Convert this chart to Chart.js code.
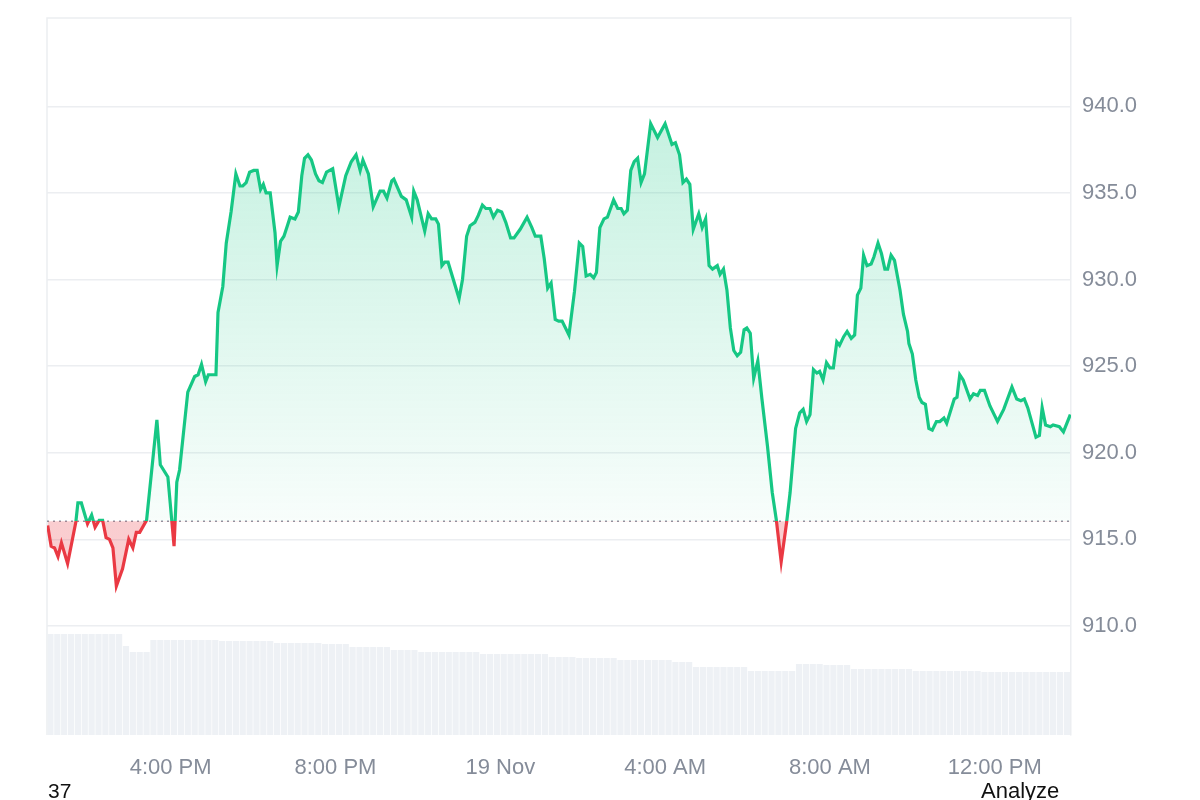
<!DOCTYPE html>
<html lang="en">
<head>
  <meta charset="UTF-8" />
  <title>Price chart</title>
  <script src="https://cdn.jsdelivr.net/npm/chart.js"></script>
  <style>
    body {
      margin: 0;
      background: #ffffff;
      font-family: 'Liberation Sans', Arial, sans-serif;
    }

    .wrap {
      position: relative;
      width: 1200px;
      height: 800px;
      overflow: hidden;
    }

    .corner-note {
      position: absolute;
      top: 780px;
      font-size: 21px;
      line-height: 21px;
      color: #111;
    }
  </style>
</head>
<body>
  <div class="wrap">
    <canvas id="priceChart" width="1200" height="800"></canvas>
    <div class="corner-note" style="left: 48px;">37</div>
    <div class="corner-note" style="left: 981px; font-size: 22px;">Analyze</div>
  </div>

  <script>
    // minutes since 1:00 PM, 18 Nov
    const minutes = [
      1, 6, 11, 16, 21, 30, 42, 45, 50, 59, 65, 70, 76, 81, 86, 91, 96, 101, 110, 119,
      125, 130, 135, 145, 160, 165, 176, 185, 189, 193, 205, 215, 220, 225, 231, 235, 246, 249, 256, 261,
      268, 275, 281, 285, 290, 295, 301, 306, 311, 315, 319, 325, 332, 335, 340, 345, 350, 354, 361, 366,
      371, 375, 380, 385, 391, 396, 401, 407, 416, 425, 435, 443, 450, 456, 460, 468, 475, 485, 490, 495,
      502, 505, 516, 523, 531, 534, 539, 550, 555, 560, 566, 570, 575, 579, 584, 600, 605, 611, 616, 623,
      628, 634, 639, 645, 650, 656, 662, 668, 675, 680, 689, 699, 706, 711, 719, 724, 729, 734, 740, 745,
      750, 760, 768, 775, 780, 785, 791, 796, 800, 805, 811, 816, 825, 831, 836, 840, 845, 850, 855, 860,
      865, 870, 879, 889, 900, 910, 915, 921, 926, 931, 936, 941, 949, 954, 959, 964, 969, 976, 980, 985,
      990, 995, 1000, 1005, 1010, 1015, 1019, 1024, 1029, 1035, 1041, 1049, 1056, 1062, 1069, 1077, 1082, 1090, 1096, 1101,
      1106, 1111, 1116, 1121, 1125, 1130, 1135, 1140, 1145, 1150, 1154, 1160, 1165, 1171, 1176, 1180, 1185, 1189, 1194, 1200,
      1204, 1210, 1215, 1220, 1224, 1229, 1234, 1242, 1247, 1253, 1255, 1260, 1265, 1270, 1274, 1279, 1284, 1289, 1295, 1300,
      1306, 1310, 1321, 1325, 1329, 1334, 1344, 1349, 1355, 1359, 1365, 1373, 1384, 1393, 1405, 1412, 1418, 1423, 1428, 1440,
      1445, 1449, 1454, 1461, 1465, 1474, 1480, 1490
    ];

    const prices = [
      915.8, 914.6, 914.5, 914.0, 914.8, 913.6, 916.0, 917.1, 917.1, 915.9, 916.4, 915.7, 916.1, 916.1, 915.1, 915.0, 914.5, 912.3, 913.3, 915.0,
      914.5, 915.4, 915.4, 916.1, 921.9, 919.3, 918.6, 914.6, 918.3, 919.0, 923.5, 924.4, 924.5, 925.1, 924.1, 924.5, 924.5, 928.1, 929.6, 932.1,
      933.9, 936.1, 935.4, 935.4, 935.6, 936.2, 936.3, 936.3, 935.2, 935.5, 935.0, 935.0, 932.7, 930.8, 932.2, 932.5, 933.1, 933.6, 933.5, 933.9,
      936.0, 937.0, 937.2, 936.9, 936.1, 935.7, 935.6, 936.2, 936.4, 934.2, 936.0, 936.8, 937.2, 936.3, 936.9, 936.1, 934.2, 935.1, 935.1, 934.7,
      935.7, 935.8, 934.8, 934.6, 933.6, 935.1, 934.6, 932.8, 933.8, 933.5, 933.5, 933.2, 930.8, 931.0, 931.0, 928.9, 930.0, 932.5, 933.1, 933.3,
      933.7, 934.3, 934.1, 934.1, 933.6, 934.0, 933.9, 933.3, 932.4, 932.4, 932.9, 933.6, 933.0, 932.5, 932.5, 931.2, 929.5, 929.8, 927.7, 927.6,
      927.6, 926.8, 929.3, 932.1, 931.9, 930.2, 930.3, 930.1, 930.4, 933.0, 933.5, 933.6, 934.6, 934.1, 934.1, 933.8, 934.0, 936.3, 936.8, 937.0,
      935.6, 936.1, 939.0, 938.2, 939.0, 937.8, 937.9, 937.2, 935.6, 935.8, 935.5, 932.9, 933.8, 933.0, 933.5, 930.8, 930.6, 930.8, 930.3, 930.6,
      929.4, 927.2, 925.9, 925.6, 925.8, 927.1, 927.2, 926.9, 924.3, 925.3, 923.1, 920.4, 917.7, 916.1, 913.7, 916.0, 917.7, 921.4, 922.3, 922.5,
      921.8, 922.2, 924.8, 924.6, 924.7, 924.2, 925.2, 924.9, 924.9, 926.4, 926.2, 926.7, 927.0, 926.6, 926.8, 929.1, 929.5, 931.4, 930.8, 930.9,
      931.3, 932.1, 931.5, 930.6, 930.6, 931.4, 931.1, 929.4, 928.0, 927.0, 926.3, 925.7, 924.2, 923.2, 922.9, 922.8, 921.4, 921.3, 921.8, 921.8,
      922.0, 921.7, 923.1, 923.2, 924.5, 924.2, 923.1, 923.4, 923.3, 923.6, 923.6, 922.7, 921.8, 922.5, 923.8, 923.1, 923.0, 923.1, 922.6, 920.9,
      921.0, 922.6, 921.6, 921.5, 921.6, 921.5, 921.2, 922.2
    ];

    // opening price, drawn as the dotted reference line
    const openPrice = 916.04;

    // volume per 10-minute bar (relative units)
    const volumeInterval = 10;
    const volume = [
      1.01, 1.01, 1.01, 1.01, 1.01, 1.01, 1.01, 1.01, 1.01, 1.01, 1.01, 0.89, 0.83, 0.83, 0.83, 0.95,
      0.95, 0.95, 0.95, 0.95, 0.95, 0.95, 0.95, 0.95, 0.95, 0.94, 0.94, 0.94, 0.94, 0.94, 0.94, 0.94, 0.94,
      0.92, 0.92, 0.92, 0.92, 0.92, 0.92, 0.92, 0.91, 0.91, 0.91, 0.91,
      0.88, 0.88, 0.88, 0.88, 0.88, 0.88, 0.85, 0.85, 0.85, 0.85,
      0.83, 0.83, 0.83, 0.83, 0.83, 0.83, 0.83, 0.83, 0.83,
      0.81, 0.81, 0.81, 0.81, 0.81, 0.81, 0.81, 0.81, 0.81, 0.81,
      0.78, 0.78, 0.78, 0.78, 0.77, 0.77, 0.77, 0.77, 0.77, 0.77,
      0.75, 0.75, 0.75, 0.75, 0.75, 0.75, 0.75, 0.75, 0.73, 0.73, 0.73,
      0.68, 0.68, 0.68, 0.68, 0.68, 0.68, 0.68, 0.68, 0.64, 0.64, 0.64, 0.64, 0.64, 0.64, 0.64,
      0.71, 0.71, 0.71, 0.71, 0.70, 0.70, 0.70, 0.70,
      0.66, 0.66, 0.66, 0.66, 0.66, 0.66, 0.66, 0.66, 0.66,
      0.64, 0.64, 0.64, 0.64, 0.64, 0.64, 0.64, 0.64, 0.64, 0.64,
      0.63, 0.63, 0.63, 0.63, 0.63, 0.63, 0.63, 0.63, 0.63, 0.63, 0.63, 0.63, 0.63
    ];

    const xTicks = [180, 420, 660, 900, 1140, 1380];
    const xTickLabels = ['4:00 PM', '8:00 PM', '19 Nov', '4:00 AM', '8:00 AM', '12:00 PM'];
    const yTicks = [910, 915, 920, 925, 930, 935, 940];

    const green = '#16c784';
    const red = '#ea3943';
    const gridColor = '#eceef1';
    const labelColor = '#858c99';

    // gradient with a hard switch at the opening price
    function splitGradient(chart, stopsAbove, stopsBelow) {
      const area = chart.chartArea;
      const yBase = chart.scales.y.getPixelForValue(openPrice);
      const b = Math.min(Math.max((yBase - area.top) / (area.bottom - area.top), 0), 1);
      const g = chart.ctx.createLinearGradient(0, area.top, 0, area.bottom);
      g.addColorStop(0, stopsAbove[0]);
      g.addColorStop(b, stopsAbove[1]);
      g.addColorStop(b, stopsBelow[0]);
      g.addColorStop(1, stopsBelow[1]);
      return g;
    }

    const framePlugin = {
      id: 'frame',
      beforeDatasetsDraw(chart) {
        const { ctx, chartArea } = chart;
        ctx.save();
        ctx.strokeStyle = gridColor;
        ctx.lineWidth = 1.5;
        ctx.beginPath();
        ctx.moveTo(chartArea.left, chartArea.bottom);
        ctx.lineTo(chartArea.left, chartArea.top);
        ctx.lineTo(chartArea.right, chartArea.top);
        ctx.stroke();

        // dotted opening price line
        const y = chart.scales.y.getPixelForValue(openPrice);
        ctx.strokeStyle = '#8f96a3';
        ctx.lineWidth = 1.5;
        ctx.setLineDash([2, 4]);
        ctx.beginPath();
        ctx.moveTo(chartArea.left, y);
        ctx.lineTo(chartArea.right, y);
        ctx.stroke();
        ctx.restore();
      }
    };

    const pricePoints = minutes.map((m, i) => ({ x: m, y: prices[i] }));
    const volumePoints = volume.map((v, i) => ({ x: volumeInterval / 2 + i * volumeInterval, y: v }));

    new Chart(document.getElementById('priceChart'), {
      type: 'line',
      data: {
        datasets: [
          {
            type: 'line',
            data: pricePoints,
            yAxisID: 'y',
            borderWidth: 3.2,
            pointRadius: 0,
            tension: 0,
            order: 1,
            borderColor: (c) => {
              if (!c.chart.chartArea) return green;
              return splitGradient(c.chart, [green, green], [red, red]);
            },
            backgroundColor: (c) => {
              if (!c.chart.chartArea) return 'rgba(22,199,132,0.15)';
              return splitGradient(c.chart,
                ['rgba(22,199,132,0.30)', 'rgba(22,199,132,0.03)'],
                ['rgba(234,57,67,0.25)', 'rgba(234,57,67,0.25)']);
            },
            fill: { target: { value: openPrice } }
          },
          {
            type: 'bar',
            data: volumePoints,
            yAxisID: 'yVol',
            backgroundColor: '#eef1f5',
            barPercentage: 1,
            categoryPercentage: 0.9,
            order: 2
          }
        ]
      },
      options: {
        responsive: false,
        animation: false,
        layout: { padding: { left: 47, top: 18, right: 0, bottom: 0 } },
        plugins: {
          legend: { display: false },
          tooltip: { enabled: false }
        },
        scales: {
          x: {
            type: 'linear',
            min: 0,
            max: 1491,
            offset: false,
            grid: { display: false, drawTicks: false },
            border: { display: false },
            afterFit: (s) => {
              s.height = 65;
              s.paddingLeft = 0;
              s.paddingRight = 0;
            },
            afterBuildTicks: (s) => { s.ticks = xTicks.map(v => ({ value: v })); },
            ticks: {
              autoSkip: false,
              maxRotation: 0,
              padding: 20,
              color: labelColor,
              font: { family: "'Liberation Sans', Arial, sans-serif", size: 22 },
              callback: (v) => xTickLabels[xTicks.indexOf(v)]
            }
          },
          y: {
            position: 'right',
            min: 903.7,
            max: 945.1,
            grid: { color: gridColor, lineWidth: 1.5, drawTicks: false },
            border: { display: true, color: gridColor, width: 1.5 },
            afterFit: (s) => {
              s.width = 129;
              s.paddingTop = 0;
              s.paddingBottom = 0;
            },
            afterBuildTicks: (s) => { s.ticks = yTicks.map(v => ({ value: v })); },
            ticks: {
              padding: 11,
              color: labelColor,
              font: { family: "'Liberation Sans', Arial, sans-serif", size: 22 },
              callback: (v) => v.toFixed(1)
            }
          },
          yVol: {
            display: false,
            min: 0,
            max: 7.17
          }
        }
      },
      plugins: [framePlugin]
    });
  </script>
</body>
</html>
